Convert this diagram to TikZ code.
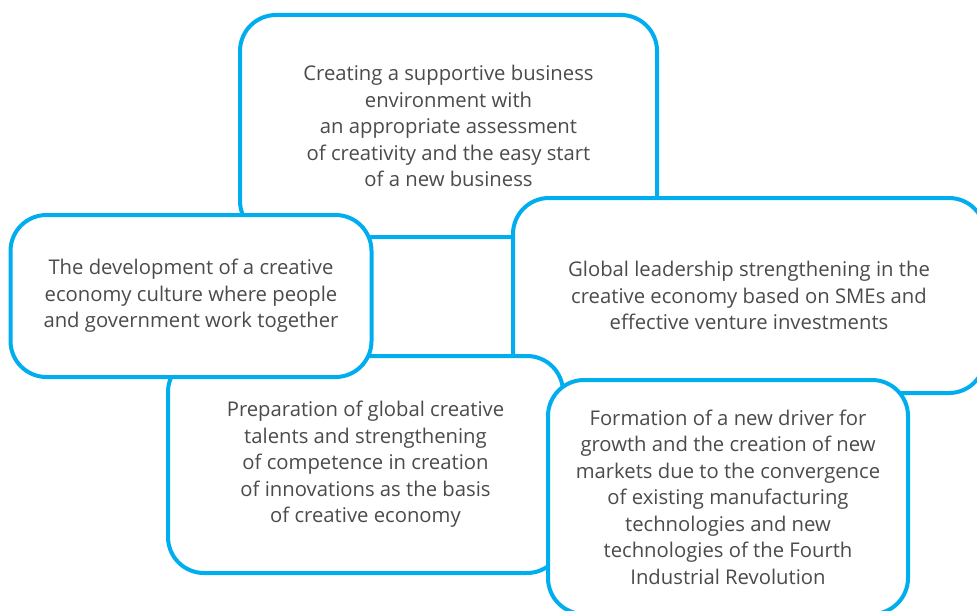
\documentclass[tikz,border=0pt]{standalone}
\usepackage{fontspec}
\setmainfont{Open Sans}
\definecolor{boxblue}{RGB}{0,174,239}
\definecolor{txtgray}{RGB}{75,75,75}

\begin{document}
\begin{tikzpicture}[x=0.75pt,y=0.75pt,yscale=-1,xscale=1,
  goalbox/.style={draw=boxblue, line width=3pt, fill=white, rounded corners=27pt,
    inner sep=0pt, text=txtgray, align=center,
    font=\fontsize{15.2}{19.9}\selectfont}]
\useasboundingbox (0,0) rectangle (977,610);
\clip (0,0) rectangle (977,610);

%Shape: Rounded Rect [top]
\node [goalbox, minimum width=312.75pt, minimum height=166.5pt] (envbox) at (448.5,126)
  {Creating a supportive business\\environment with\\an appropriate assessment\\of creativity and the easy start\\of a new business};

%Shape: Rounded Rect [right]
\node [goalbox, minimum width=354pt, minimum height=146.25pt] (leadbox) at (749,295.5)
  {Global leadership strengthening in the\\creative economy based on SMEs and\\effective venture investments};

%Shape: Rounded Rect [bottom left]
\node [goalbox, minimum width=296.25pt, minimum height=162.75pt] (talentbox) at (365.5,464.5)
  {Preparation of global creative\\talents and strengthening\\of competence in creation\\of innovations as the basis\\of creative economy};

%Shape: Rounded Rect [left]
\node [goalbox, minimum width=270.75pt, minimum height=121.5pt] (culturebox) at (191,296)
  {The development of a creative\\economy culture where people\\and government work together};

%Shape: Rounded Rect [bottom right]
\node [goalbox, minimum width=270pt, minimum height=175.5pt] (driverbox) at (728,497)
  {Formation of a new driver for\\growth and the creation of new\\markets due to the convergence\\of existing manufacturing\\technologies and new\\technologies of the Fourth\\Industrial Revolution};

\end{tikzpicture}
\end{document}
